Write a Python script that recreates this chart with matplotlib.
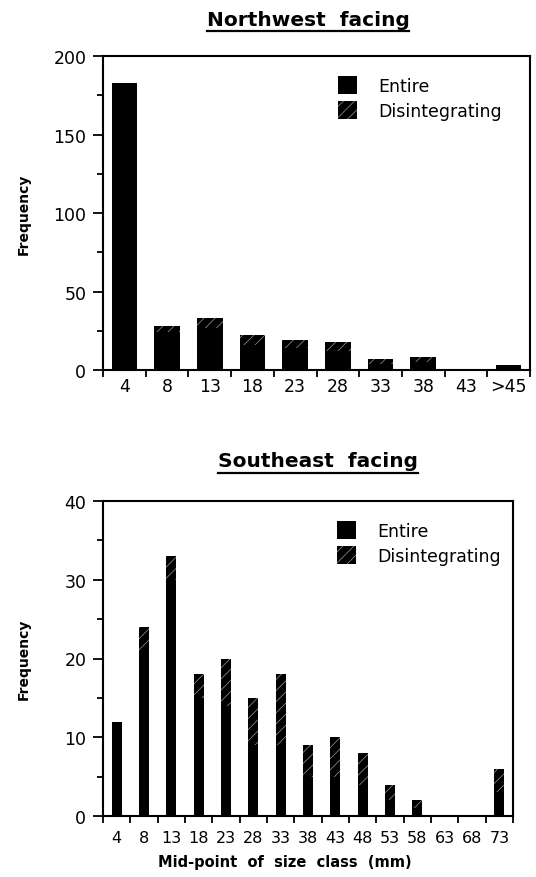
import numpy as np
import matplotlib.pyplot as plt
from matplotlib.patches import Patch
from matplotlib.lines import Line2D

plt.rcParams['font.family'] = ['DejaVu Sans']
plt.rcParams['hatch.linewidth'] = 0.5

# Northwest facing
nw_classes = ['4', '8', '13', '18', '23', '28', '33', '38', '43', '>45']
nw_entire = [183, 24, 27, 16, 14, 12, 4, 5, 0, 3]
nw_disint = [0, 4, 6, 6, 5, 6, 3, 3, 0, 0]

# Southeast facing
se_classes = ['4', '8', '13', '18', '23', '28', '33', '38', '43', '48',
              '53', '58', '63', '68', '73']
se_entire = [12, 21, 30, 15, 14, 9, 9, 5, 5, 4, 2, 1, 0, 0, 3]
se_disint = [0, 3, 3, 3, 6, 6, 9, 4, 5, 4, 2, 1, 0, 0, 3]

W, H = 536, 878
HATCH_COL = '0.6'
fig = plt.figure(figsize=(W / 100, H / 100), dpi=100)


def panel(rect, classes, entire, disint, width, ymax, major, minor, pad, lsize, leg_xy):
    ax = fig.add_axes(rect)
    x = np.arange(len(classes))
    ax.bar(x, entire, width, color='black', linewidth=0)
    ax.bar(x, disint, width, bottom=entire, color='black', edgecolor=HATCH_COL,
           hatch='///', linewidth=0)
    ax.set_xlim(-0.5, len(classes) - 0.5)
    ax.set_ylim(0, ymax)
    ax.set_xticks(x)
    ax.set_xticklabels(classes)
    ax.set_xticks(np.arange(len(classes) + 1) - 0.5, minor=True)
    ax.set_yticks(np.arange(0, ymax + 1, major))
    ax.set_yticks(np.arange(0, ymax + 1, minor), minor=True)
    ax.tick_params(axis='x', which='major', length=0, pad=pad, labelsize=lsize)
    ax.tick_params(axis='x', which='minor', length=5, width=1.3, direction='out')
    ax.tick_params(axis='y', which='major', length=7, width=1.3, labelsize=12.5, pad=5)
    ax.tick_params(axis='y', which='minor', length=4, width=1.3)
    for s in ax.spines.values():
        s.set_linewidth(1.5)
    ax.set_ylabel('Frequency', fontsize=10, fontweight='bold')
    # same label place for both panels
    x_ax = (31 - rect[0] * W) / (rect[2] * W)
    ax.yaxis.set_label_coords(x_ax, 0.5)
    handles = [Patch(facecolor='black', linewidth=0),
               Patch(facecolor='black', edgecolor=HATCH_COL, hatch='///', linewidth=0)]
    ax.legend(handles, ['Entire', 'Disintegrating'], loc='upper left',
              bbox_to_anchor=leg_xy, frameon=False, fontsize=12.5,
              handlelength=1.1, handleheight=1.2, handletextpad=1.2,
              labelspacing=0.35, borderaxespad=0, borderpad=0)
    return ax


ax1 = panel([103 / W, 1 - 371 / H, 427 / W, 314 / H], nw_classes, nw_entire,
            nw_disint, 0.6, 200, 50, 25, 5, 12.5, (0.55, 0.935))
ax2 = panel([103 / W, 1 - 817 / H, 410 / W, 315 / H], se_classes, se_entire,
            se_disint, 0.37, 40, 10, 5, 10, 11.5, (0.571, 0.935))

t1 = fig.text(308 / W, 1 - 20 / H, 'Northwest  facing', ha='center', va='center',
              fontsize=14.5, fontweight='bold')
t2 = fig.text(318 / W, 1 - 462 / H, 'Southeast  facing', ha='center', va='center',
              fontsize=14.5, fontweight='bold')
fig.text(285 / W, 1 - 863 / H, 'Mid-point  of  size  class  (mm)', ha='center',
         va='center', fontsize=10.5, fontweight='bold')

# underline the titles
fig.canvas.draw()
r = fig.canvas.get_renderer()
for t in (t1, t2):
    bb = t.get_window_extent(r)
    yl = bb.y0 - 2
    fig.add_artist(Line2D([bb.x0 / W, bb.x1 / W], [yl / H, yl / H],
                          color='black', linewidth=1.6))

fig.savefig('out.png', dpi=100)
